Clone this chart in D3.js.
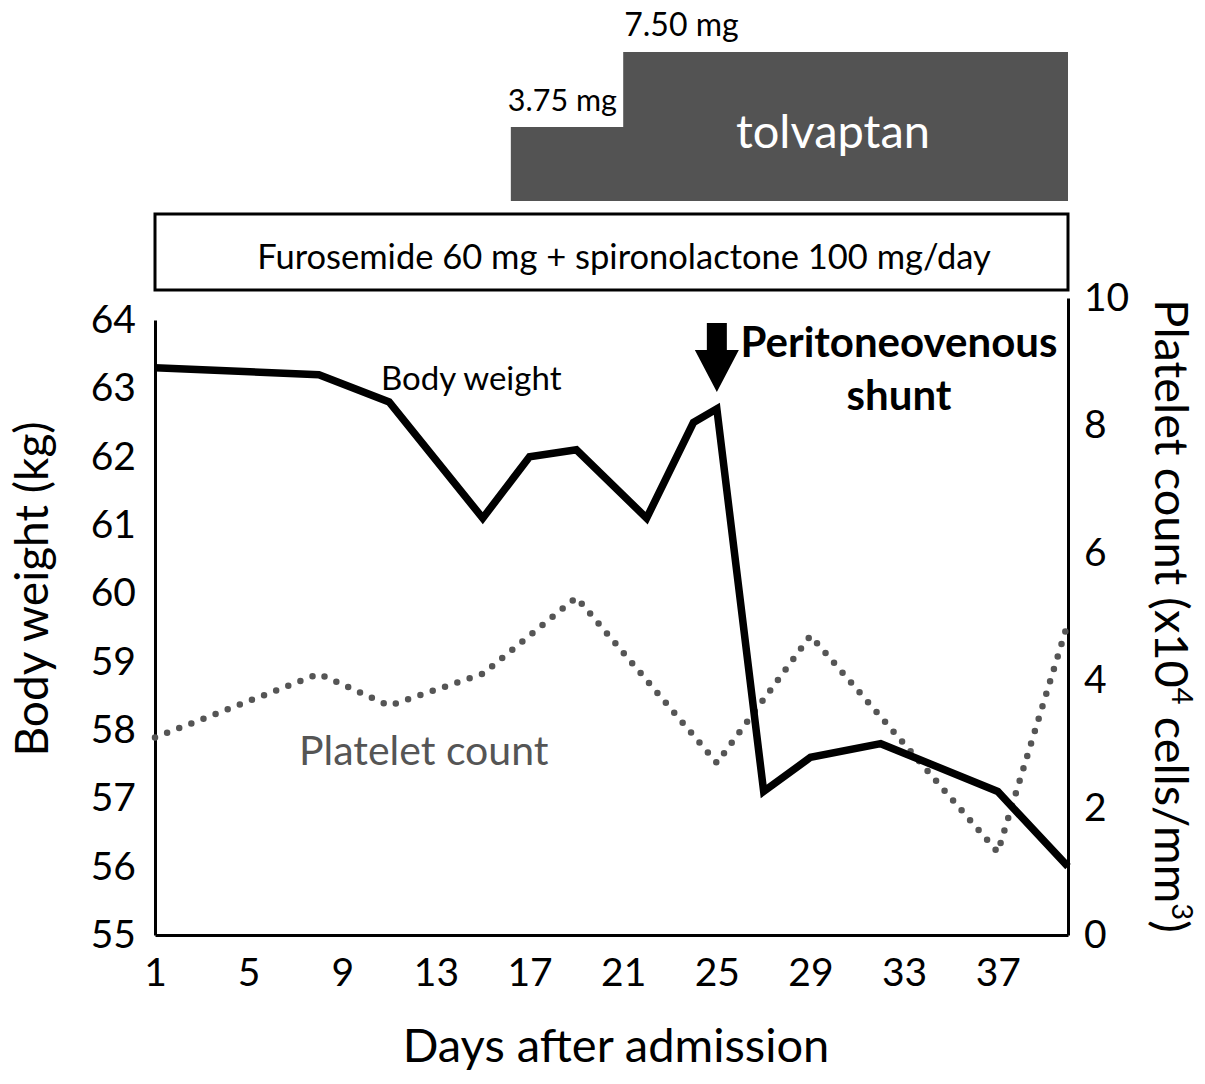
<!DOCTYPE html>
<html>
<head>
<meta charset="utf-8">
<script src="https://cdn.jsdelivr.net/npm/d3@7"></script>
<style>
  body { margin: 0; background: #fff; }
  text { font-family: Lato, "Open Sans", sans-serif; }
</style>
</head>
<body>
<div id="chart"></div>
<script>
/**
 * DATA
 * */
const weightDays = [1, 8, 11, 15, 17, 19, 22, 24, 25, 27, 29, 32, 37, 40];
const weightKg = [63.3, 63.2, 62.8, 61.1, 62.0, 62.1, 61.1, 62.5, 62.7, 57.1, 57.6, 57.8, 57.1, 56.0];

const plateletDays = [1, 8, 11, 15, 19, 25, 29, 37, 40];
const plateletCount = [3.1, 4.1, 3.6, 4.1, 5.3, 2.7, 4.7, 1.3, 4.9];

const dayTicks = [1, 5, 9, 13, 17, 21, 25, 29, 33, 37];
const weightTicks = [55, 56, 57, 58, 59, 60, 61, 62, 63, 64];
const plateletTicks = [0, 2, 4, 6, 8, 10];

// tolvaptan dose steps (day from / to)
const tolvaptanDose = ["3.75 mg", "7.50 mg"];
const tolvaptanFrom = [16.2, 21];
const tolvaptanTo = [40, 40];

const diureticLabel = "Furosemide 60 mg + spironolactone 100 mg/day";
const diureticFrom = 1, diureticTo = 40;
const shuntDay = 25;

/**
 * CONSTANTS
 * */
const width = 1205, height = 1084;
const plot = { left: 155, right: 1068, top: 320, bottom: 935 };

const svg = d3.select("#chart").append("svg")
  .attr("width", width)
  .attr("height", height);

// SCALES
const xScale = d3.scaleLinear().domain([1, 40]).range([plot.left, plot.right]);
const yScale = d3.scaleLinear().domain([55, 64]).range([plot.bottom, plot.top]);
const y2Scale = d3.scaleLinear().domain([0, 10]).range([plot.bottom, 298]);

// TREATMENT BARS
const steps = tolvaptanDose.map((d, i) => ({ dose: d, from: tolvaptanFrom[i], to: tolvaptanTo[i] }));
const stepTop = [127, 52];

svg.selectAll(".tolv")
  .data(steps)
  .join("rect")
  .attr("class", "tolv")
  .attr("x", d => xScale(d.from))
  .attr("y", (d, i) => stepTop[i])
  .attr("width", d => xScale(d.to) - xScale(d.from))
  .attr("height", (d, i) => 201 - stepTop[i])
  .attr("fill", "#535353");

svg.selectAll(".dose")
  .data(steps)
  .join("text")
  .attr("class", "dose")
  .attr("x", (d, i) => xScale(d.from) + (i === 0 ? -3 : 1))
  .attr("y", (d, i) => stepTop[i] - 16)
  .attr("font-size", (d, i) => i === 0 ? 30.5 : 32)
  .attr("fill", "#000")
  .text(d => d.dose);

svg.append("text")
  .attr("x", 833)
  .attr("y", 148)
  .attr("text-anchor", "middle")
  .attr("font-size", 47)
  .attr("fill", "#fff")
  .text("tolvaptan");

svg.append("rect")
  .attr("x", xScale(diureticFrom))
  .attr("y", 214)
  .attr("width", xScale(diureticTo) - xScale(diureticFrom))
  .attr("height", 76)
  .attr("fill", "#fff")
  .attr("stroke", "#000")
  .attr("stroke-width", 3);

svg.append("text")
  .attr("x", 624)
  .attr("y", 269)
  .attr("text-anchor", "middle")
  .attr("font-size", 34.5)
  .text(diureticLabel);

// AXES
const xAxis = d3.axisBottom(xScale).tickValues(dayTicks).tickSize(0).tickSizeOuter(0);
const yAxis = d3.axisLeft(yScale).tickValues(weightTicks).tickSize(0).tickSizeOuter(0).tickPadding(19);
const y2Axis = d3.axisRight(y2Scale).tickValues(plateletTicks).tickSize(0).tickSizeOuter(0).tickPadding(16);

function styleAxis(g) {
  g.select(".domain").attr("stroke", "#000").attr("stroke-width", 3);
  g.selectAll("text").attr("font-size", 39).attr("fill", "#000")
    .attr("font-family", "Lato, 'Open Sans', sans-serif");
}

svg.append("g")
  .attr("transform", `translate(0,${plot.bottom})`)
  .call(xAxis)
  .call(styleAxis)
  .call(g => g.selectAll("text").attr("dy", 0).attr("y", 51));

svg.append("g")
  .attr("transform", `translate(${plot.left},0)`)
  .call(yAxis)
  .call(styleAxis);

svg.append("g")
  .attr("transform", `translate(${plot.right},0)`)
  .call(y2Axis)
  .call(styleAxis);

// AXIS TITLES
svg.append("text")
  .attr("transform", `translate(48,589) rotate(-90)`)
  .attr("text-anchor", "middle")
  .attr("font-size", 46)
  .text("Body weight (kg)");

const y2Title = svg.append("text")
  .attr("transform", `translate(1155,616) rotate(90)`)
  .attr("text-anchor", "middle")
  .attr("font-size", 47);
y2Title.append("tspan").text("Platelet count (x10");
y2Title.append("tspan").attr("baseline-shift", "super").attr("font-size", 29).text("4");
y2Title.append("tspan").text(" cells/mm");
y2Title.append("tspan").attr("baseline-shift", "super").attr("font-size", 29).text("3");
y2Title.append("tspan").text(")");

svg.append("text")
  .attr("x", 616)
  .attr("y", 1062)
  .attr("text-anchor", "middle")
  .attr("font-size", 47)
  .text("Days after admission");

// LINES
const platelets = plateletDays.map((d, i) => ({ day: d, value: plateletCount[i] }));
const weights = weightDays.map((d, i) => ({ day: d, value: weightKg[i] }));

svg.append("path")
  .datum(platelets)
  .attr("fill", "none")
  .attr("stroke", "#555")
  .attr("stroke-width", 6.5)
  .attr("stroke-linecap", "round")
  .attr("stroke-dasharray", "0 13")
  .attr("d", d3.line().x(d => xScale(d.day)).y(d => y2Scale(d.value)));

svg.append("path")
  .datum(weights)
  .attr("fill", "none")
  .attr("stroke", "#000")
  .attr("stroke-width", 7.5)
  .attr("stroke-linejoin", "miter")
  .attr("d", d3.line().x(d => xScale(d.day)).y(d => yScale(d.value)));

// SERIES LABELS
svg.append("text")
  .attr("x", 381)
  .attr("y", 390)
  .attr("font-size", 33)
  .text("Body weight");

svg.append("text")
  .attr("x", 299)
  .attr("y", 765)
  .attr("font-size", 41)
  .attr("fill", "#555")
  .text("Platelet count");

// SHUNT ANNOTATION
const ax = xScale(shuntDay);
svg.append("path")
  .attr("d", `M${ax - 10},323 L${ax + 10},323 L${ax + 10},350 L${ax + 22},350 L${ax},392 L${ax - 22},350 L${ax - 10},350 Z`)
  .attr("fill", "#000");

svg.append("text")
  .attr("x", 899)
  .attr("y", 357)
  .attr("text-anchor", "middle")
  .attr("font-size", 42)
  .attr("font-weight", "bold")
  .text("Peritoneovenous");

svg.append("text")
  .attr("x", 899)
  .attr("y", 410)
  .attr("text-anchor", "middle")
  .attr("font-size", 42)
  .attr("font-weight", "bold")
  .text("shunt");
</script>
</body>
</html>
